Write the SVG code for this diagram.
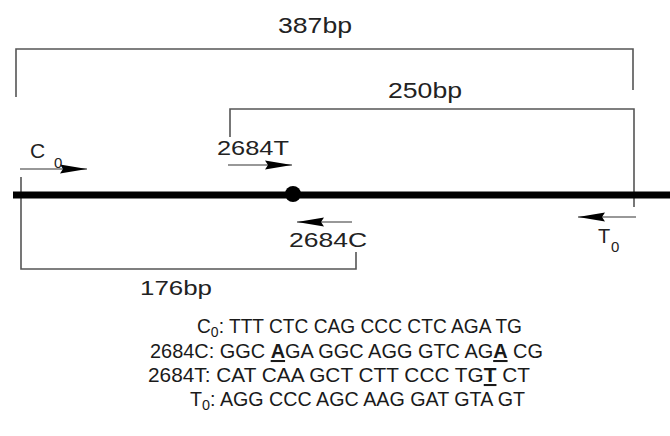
<svg xmlns="http://www.w3.org/2000/svg" width="670" height="436" viewBox="0 0 670 436">
<defs>
<marker id="ah" markerUnits="userSpaceOnUse" markerWidth="28" markerHeight="12" refX="27" refY="6" orient="auto">
<path d="M0,1.5 L27,6 L0,10.5 L3,6 Z" fill="#000"/>
</marker>
<style>
.br{fill:none;stroke:#555;stroke-width:1.6}
.ar{fill:none;stroke:#333;stroke-width:1.2;marker-end:url(#ah)}
.lb{font-family:"Liberation Sans",Arial,sans-serif;fill:#222}
.sq{font-family:"Liberation Sans",Arial,sans-serif;fill:#1a1a1a;font-size:20.5px}
.b{font-weight:bold;text-decoration:underline}
</style>
</defs>
<rect width="670" height="436" fill="#fff"/>
<g id="connectors">
<path class="br" d="M16,97 V49 H633 V90"/>
<path class="br" d="M230,137 V109 H634 V207"/>
<path class="br" d="M21,177 V269 H356 V252"/>
<line x1="20" y1="169" x2="87" y2="169" class="ar"/>
<line x1="228" y1="165" x2="292" y2="165" class="ar"/>
<line x1="352" y1="222" x2="297" y2="222" class="ar"/>
<line x1="636" y1="217" x2="578" y2="217" class="ar"/>
</g>
<g id="dna">
<line x1="13" y1="195" x2="670" y2="195" stroke="#000" stroke-width="7"/>
<circle cx="293" cy="194" r="8" fill="#000"/>
</g>
<g id="labels">
<text class="lb" x="278" y="33" font-size="22" textLength="74" lengthAdjust="spacingAndGlyphs">387bp</text>
<text class="lb" x="388" y="98" font-size="22" textLength="74" lengthAdjust="spacingAndGlyphs">250bp</text>
<text class="lb" x="217" y="155" font-size="21" textLength="72" lengthAdjust="spacingAndGlyphs">2684T</text>
<text class="lb" x="289" y="247" font-size="21" textLength="78" lengthAdjust="spacingAndGlyphs">2684C</text>
<text class="lb" x="140" y="295" font-size="21" textLength="72" lengthAdjust="spacingAndGlyphs">176bp</text>
<text class="lb" x="30" y="158" font-size="21">C</text>
<text class="lb" x="54" y="168" font-size="15">0</text>
<text class="lb" x="598" y="243" font-size="20">T</text>
<text class="lb" x="611" y="252" font-size="15">0</text>
</g>
<g id="sequences">
<text class="sq" x="197" y="333" textLength="325" lengthAdjust="spacingAndGlyphs">C<tspan font-size="15" dy="4">0</tspan><tspan dy="-4">: TTT CTC CAG CCC CTC AGA TG</tspan></text>
<text class="sq" x="150" y="358" textLength="393" lengthAdjust="spacingAndGlyphs">2684C: GGC <tspan class="b">A</tspan>GA GGC AGG GTC AG<tspan class="b">A</tspan> CG</text>
<text class="sq" x="148" y="382" textLength="382" lengthAdjust="spacingAndGlyphs">2684T: CAT CAA GCT CTT CCC TG<tspan class="b">T</tspan> CT</text>
<text class="sq" x="190" y="406" textLength="335" lengthAdjust="spacingAndGlyphs">T<tspan font-size="15" dy="4">0</tspan><tspan dy="-4">: AGG CCC AGC AAG GAT GTA GT</tspan></text>
</g>
</svg>
